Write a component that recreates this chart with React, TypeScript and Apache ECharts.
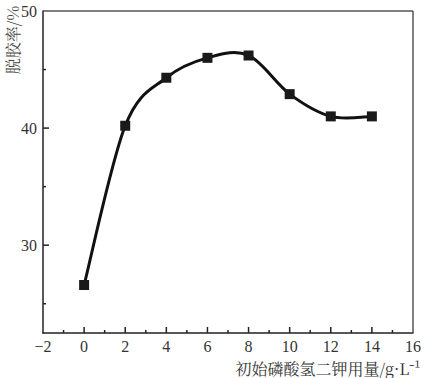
import React, { useEffect, useRef } from "react";
import * as echarts from "echarts";

const dosage = [0, 2, 4, 6, 8, 10, 12, 14];
const degumRate = [26.6, 40.2, 44.3, 46.0, 46.2, 42.9, 41.0, 41.0];
const yLabelValues = [30, 40, 50];
const xLabelValues = [-2, 0, 2, 4, 6, 8, 10, 12, 14, 16];
const xMajorTicks = [0, 2, 4, 6, 8, 10, 12, 14];
const xMinorTicks = [-1, 1, 3, 5, 7, 9, 11, 13, 15];
const yMinorTicks = [25, 35, 45];
const yMajorTicks = [30, 40];

const SERIF = "'Liberation Serif', 'DejaVu Serif', serif";

function splinePath(pts: number[][]): string {
  const n = pts.length;
  let d = `M${pts[0][0]},${pts[0][1]}`;
  for (let i = 0; i < n - 1; i++) {
    const p0 = pts[i - 1] || pts[i];
    const p1 = pts[i];
    const p2 = pts[i + 1];
    const p3 = pts[i + 2] || pts[i + 1];
    const c1x = p1[0] + (p2[0] - p0[0]) / 6;
    const c1y = p1[1] + (p2[1] - p0[1]) / 6;
    const c2x = p2[0] - (p3[0] - p1[0]) / 6;
    const c2y = p2[1] - (p3[1] - p1[1]) / 6;
    d += ` C${c1x},${c1y} ${c2x},${c2y} ${p2[0]},${p2[1]}`;
  }
  return d;
}

export default function App() {
  const ref = useRef<HTMLDivElement>(null);
  useEffect(() => {
    if (!ref.current) return;
    const chart = echarts.init(ref.current, null, { renderer: "svg" });
    chart.setOption({
      animation: false,
      backgroundColor: "#fff",
      grid: { left: 43, top: 11, right: 8, bottom: 45 },
      xAxis: {
        type: "value",
        min: -2,
        max: 16,
        position: "bottom",
        axisLine: { show: true, onZero: false, lineStyle: { color: "#222", width: 1.5 } },
        axisTick: { show: false },
        axisLabel: {
          customValues: xLabelValues,
          color: "#333",
          fontFamily: SERIF,
          fontSize: 16,
          margin: 5,
          lineHeight: 16,
          formatter: (v: number) => (v < 0 ? "\u2212" + Math.abs(v) : String(v)),
        },
        splitLine: { show: false },
      },
      yAxis: {
        type: "value",
        min: 22.5,
        max: 50,
        axisLine: { show: true, onZero: false, lineStyle: { color: "#222", width: 1.5 } },
        axisTick: { show: false },
        axisLabel: {
          customValues: yLabelValues,
          color: "#333",
          fontFamily: SERIF,
          fontSize: 16,
          margin: 6,
        },
        splitLine: { show: false },
      },
      graphic: [
        {
          type: "text",
          x: 12,
          y: 40,
          rotation: Math.PI / 2,
          style: {
            text: "脱胶率/%",
            fill: "#444",
            font: "16px 'Noto Serif CJK SC', 'Noto Sans CJK SC', serif",
            align: "center",
            verticalAlign: "middle",
          },
        },
        {
          type: "text",
          x: 328,
          y: 368,
          style: {
            text: "初始磷酸氢二钾用量/g·L⁻¹",
            fill: "#333",
            font: "16px 'Noto Serif CJK SC', 'Noto Sans CJK SC', serif",
            align: "center",
            verticalAlign: "middle",
          },
        },
      ],
      series: [
        {
          type: "custom",
          silent: true,
          z: 4,
          data: [0],
          renderItem: (params: any, api: any) => {
            const pts = dosage.map((x, i) => api.coord([x, degumRate[i]]));
            return {
              type: "path",
              shape: { pathData: splinePath(pts) },
              style: { stroke: "#111", lineWidth: 3, fill: "none" },
            };
          },
        },
        {
          type: "line",
          data: dosage.map((x, i) => [x, degumRate[i]]),
          symbol: "rect",
          symbolSize: 10,
          itemStyle: { color: "#1a1a1a" },
          lineStyle: { width: 0, opacity: 0 },
          z: 5,
        },
        {
          type: "line",
          data: [],
          markLine: {
            silent: true,
            symbol: "none",
            label: { show: false },
            lineStyle: { color: "#555", width: 1.5, type: "solid" },
            data: [
              [{ coord: [-2, 50] }, { coord: [16, 50] }],
              [{ coord: [16, 22.5] }, { coord: [16, 50] }],
            ],
          },
        },
        {
          type: "custom",
          renderItem: (params: any, api: any) => {
            const kind = api.value(0);
            const v = api.value(1);
            if (kind === 0 || kind === 1) {
              const p = api.coord([v, 22.5]);
              const len = kind === 0 ? 6 : 3;
              return {
                type: "line",
                shape: { x1: p[0], y1: p[1], x2: p[0], y2: p[1] - len },
                style: { stroke: "#222", lineWidth: 1.5 },
              };
            }
            const p = api.coord([-2, v]);
            const len = kind === 2 ? 6 : 3;
            return {
              type: "line",
              shape: { x1: p[0], y1: p[1], x2: p[0] + len, y2: p[1] },
              style: { stroke: "#222", lineWidth: 1.5 },
            };
          },
          data: [
            ...xMajorTicks.map((v) => [0, v]),
            ...xMinorTicks.map((v) => [1, v]),
            ...yMajorTicks.map((v) => [2, v]),
            ...yMinorTicks.map((v) => [3, v]),
          ],
          silent: true,
          z: 3,
        },
      ],
    });
    return () => chart.dispose();
  }, []);
  return <div ref={ref} style={{ width: 424, height: 378, position: "absolute", left: 0, top: 0 }} />;
}
